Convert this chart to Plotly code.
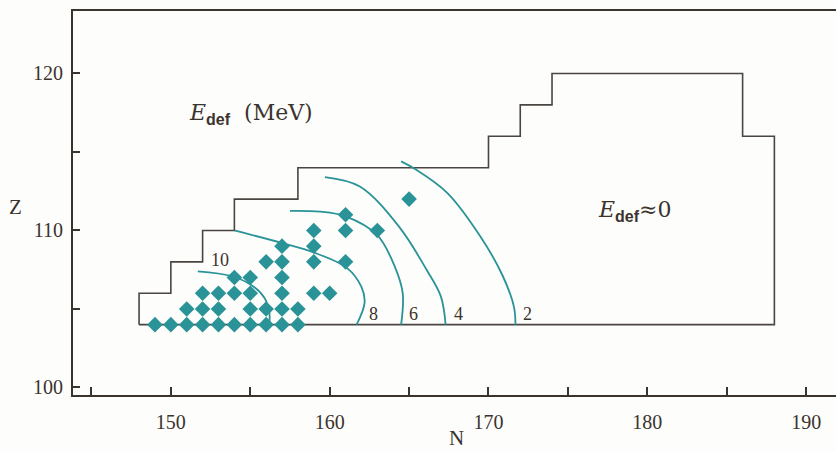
import plotly.graph_objects as go

# ---- data ----
# nuclides marked with diamonds (neutron number N, proton number Z)
nuc_N = [149, 150, 151, 152, 153, 154, 155, 156, 157, 158,
         151, 152, 153, 155, 156, 157, 158,
         152, 153, 154, 155, 157, 159, 160,
         154, 155, 157,
         156, 157, 159, 161,
         157, 159,
         159, 161, 163,
         161,
         165]
nuc_Z = [104, 104, 104, 104, 104, 104, 104, 104, 104, 104,
         105, 105, 105, 105, 105, 105, 105,
         106, 106, 106, 106, 106, 106, 106,
         107, 107, 107,
         108, 108, 108, 108,
         109, 109,
         110, 110, 110,
         111,
         112]

# outline of the calculated region
bound_N = [148, 148, 150, 150, 152, 152, 154, 154, 158, 158, 170, 170, 172, 172,
           174, 174, 186, 186, 188, 188, 148]
bound_Z = [104, 106, 106, 108, 108, 110, 110, 112, 112, 114, 114, 116, 116, 118,
           118, 120, 120, 116, 116, 104, 104]

# deformation-energy contour lines (MeV)
c10_N = [151.7, 153.8, 155.1, 155.9, 156.2, 156.2]
c10_Z = [107.4, 107.1, 106.5, 105.7, 104.8, 104.0]
c8_N = [154.0, 157.0, 159.0, 161.1, 162.0, 162.2, 161.7]
c8_Z = [110.0, 109.2, 108.6, 107.6, 106.4, 105.4, 104.0]
c6_N = [157.5, 159.4, 161.0, 163.0, 164.1, 164.6, 164.5]
c6_Z = [111.25, 111.2, 110.9, 109.7, 107.7, 106.0, 104.0]
c4_N = [159.7, 161.9, 164.4, 166.1, 167.0, 167.3]
c4_Z = [113.4, 112.8, 110.2, 107.5, 105.8, 104.0]
c2_N = [164.5, 165.4, 167.4, 169.5, 170.9, 171.6, 171.7]
c2_Z = [114.4, 113.9, 112.4, 109.6, 107.1, 105.15, 104.0]

contour_labels = ["10", "8", "6", "4", "2"]
label_N = [153.1, 162.75, 165.26, 168.1, 172.44]
label_Z = [108.12, 104.68, 104.68, 104.68, 104.68]

x_ticks = [150, 160, 170, 180, 190]
y_ticks = [100, 110, 120]

TEAL = "#2a9397"
DARK = "#3b332d"
FONT = "Liberation Serif"
WIDE = "DejaVu Serif"

fig = go.Figure()

fig.add_trace(go.Scatter(x=bound_N, y=bound_Z, mode="lines",
                         line=dict(color="#4a4541", width=1.6),
                         hoverinfo="skip", showlegend=False))

for cn, cz in [(c10_N, c10_Z), (c8_N, c8_Z), (c6_N, c6_Z), (c4_N, c4_Z), (c2_N, c2_Z)]:
    fig.add_trace(go.Scatter(x=cn, y=cz, mode="lines",
                             line=dict(color=TEAL, width=1.8, shape="spline", smoothing=1.0),
                             hoverinfo="skip", showlegend=False))

fig.add_trace(go.Scatter(x=nuc_N, y=nuc_Z, mode="markers",
                         marker=dict(symbol="diamond", size=12, color=TEAL,
                                     line=dict(width=0)),
                         showlegend=False))

for t, lx, ly in zip(contour_labels, label_N, label_Z):
    fig.add_annotation(x=lx, y=ly, text=t, showarrow=False,
                       font=dict(family=FONT, size=18, color=DARK))

SUB = "<sub><span style='font-family:Liberation Sans;font-weight:bold;font-size:16px'>def</span></sub>"
fig.add_annotation(x=151.0, y=117.4, xanchor="left", yanchor="middle", showarrow=False,
                   text="<i>E</i>" + SUB + "  (MeV)",
                   font=dict(family=WIDE, size=22, color=DARK))
fig.add_annotation(x=176.75, y=111.25, xanchor="left", yanchor="middle", showarrow=False,
                   text="<i>E</i>" + SUB + "\u22480",
                   font=dict(family=WIDE, size=22, color=DARK))

fig.add_annotation(x=-0.0754, y=0.49, xref="paper", yref="paper", text="Z",
                   xanchor="center", yanchor="middle",
                   showarrow=False, font=dict(family=FONT, size=21, color=DARK))
fig.add_annotation(x=0.503, y=-0.113, xref="paper", yref="paper", text="N",
                   xanchor="center", yanchor="middle",
                   showarrow=False, font=dict(family=FONT, size=21, color=DARK))

fig.update_xaxes(range=[143.84, 191.88], tickvals=x_ticks, ticks="inside", ticklen=8,
                 tickwidth=2, tickcolor=DARK, showline=True, linecolor=DARK, linewidth=2,
                 mirror=True, showgrid=False, zeroline=False, automargin=False,
                 minor=dict(dtick=5, tick0=145, ticks="inside", ticklen=8, tickwidth=2,
                            tickcolor=DARK, showgrid=False),
                 tickfont=dict(family=FONT, size=20, color=DARK), ticklabelstandoff=8)
fig.update_yaxes(range=[99.52, 123.98], tickvals=y_ticks, ticks="inside", ticklen=7,
                 tickwidth=2, tickcolor=DARK, showline=True, linecolor=DARK, linewidth=2,
                 showgrid=False, zeroline=False, automargin=False,
                 minor=dict(dtick=5, tick0=105, ticks="inside", ticklen=7, tickwidth=2,
                            tickcolor=DARK, showgrid=False),
                 tickfont=dict(family=FONT, size=20, color=DARK), ticklabelstandoff=4)

fig.update_layout(width=836, height=451,
                  margin=dict(l=73, r=0, t=11, b=56, autoexpand=False),
                  paper_bgcolor="#fdfdfb", plot_bgcolor="#fdfdfb",
                  showlegend=False)

# remove the default page margin so the figure fills the window exactly
fig.write_html("out.html", config={"displayModeBar": False},
               post_script="document.body.style.margin='0';document.body.style.overflow='hidden';")
